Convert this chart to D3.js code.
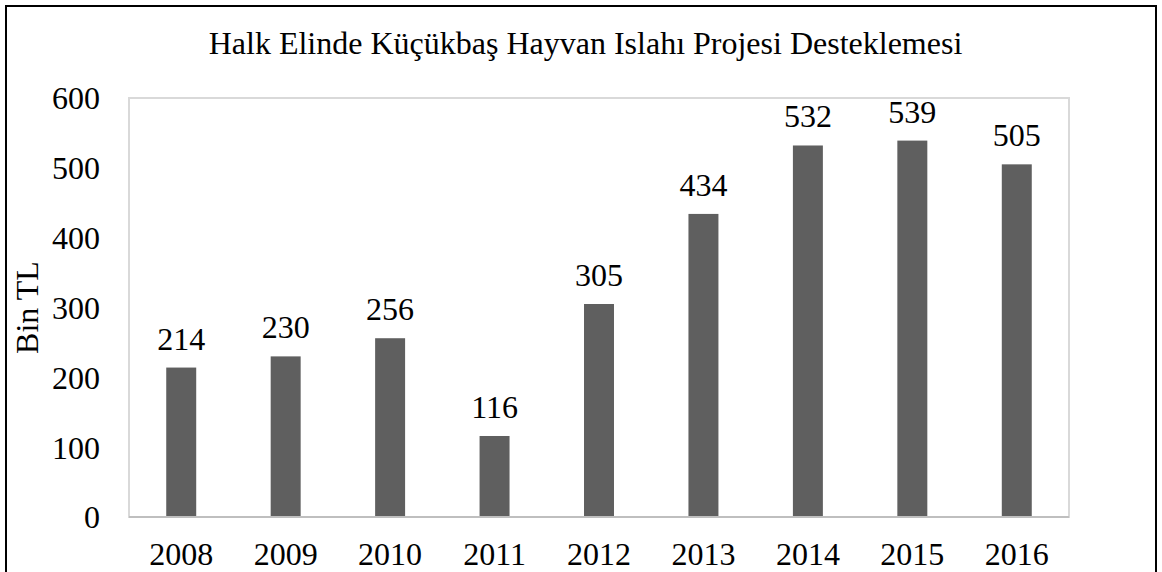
<!DOCTYPE html>
<html>
<head>
<meta charset="utf-8">
<script src="https://cdn.jsdelivr.net/npm/d3@7"></script>
<style>
  body{margin:0;background:#fff;}
  text{font-family:"Liberation Serif","Times New Roman",serif;fill:#000;}
</style>
</head>
<body>
<div id="chart"></div>
<script>
// data
var years=["2008","2009","2010","2011","2012","2013","2014","2015","2016"];
var values=[214,230,256,116,305,434,532,539,505];
var yTicks=[0,100,200,300,400,500,600];
var title="Halk Elinde Küçükbaş Hayvan Islahı Projesi Desteklemesi";
var yLabel="Bin TL";

var width=1162,height=572;
var plot={left:129,right:1069,top:98,bottom:517};
var fs="32px";

var svg=d3.select("#chart").append("svg")
    .attr("width",width)
    .attr("height",height);

// outer frame (bottom edge is cut off in the picture)
svg.append("path")
    .attr("d","M6,"+height+"V6H1156V"+height)
    .attr("fill","none")
    .attr("stroke","#000")
    .attr("stroke-width",2);

var x=d3.scaleBand()
    .domain(years)
    .range([plot.left,plot.right])
    .paddingInner(0.713)
    .paddingOuter(0.3565);

var y=d3.scaleLinear()
    .domain([0,600])
    .range([plot.bottom,plot.top]);

// plot area border
svg.append("rect")
    .attr("x",plot.left)
    .attr("y",plot.top)
    .attr("width",plot.right-plot.left)
    .attr("height",plot.bottom-plot.top)
    .attr("fill","none")
    .attr("stroke","#d9d9d9")
    .attr("stroke-width",2);

svg.selectAll(".bar")
    .data(values)
    .enter().append("rect")
    .attr("class","bar")
    .attr("x",function(d,i){return x(years[i]);})
    .attr("y",function(d){return y(d);})
    .attr("width",x.bandwidth())
    .attr("height",function(d){return y(0)-y(d);})
    .attr("fill","#5f5f5f");

// x axis line
svg.append("line")
    .attr("x1",plot.left)
    .attr("x2",plot.right)
    .attr("y1",y(0))
    .attr("y2",y(0))
    .attr("stroke","#bfbfbf")
    .attr("stroke-width",2);

var yAxis=svg.append("g")
    .attr("transform","translate(100,0)")
    .call(d3.axisLeft(y).tickValues(yTicks).tickSize(0).tickPadding(0));
yAxis.select(".domain").remove();
yAxis.selectAll("text")
    .attr("font-family",null)
    .attr("dy","0.34em")
    .style("font-size",fs);

var xAxis=svg.append("g")
    .attr("transform","translate(0,"+y(0)+")")
    .call(d3.axisBottom(x).tickSize(0).tickPadding(0));
xAxis.select(".domain").remove();
xAxis.selectAll("text")
    .attr("font-family",null)
    .attr("dy",null)
    .attr("y",48)
    .style("font-size",fs);

svg.selectAll(".label")
    .data(values)
    .enter().append("text")
    .attr("class","label")
    .attr("x",function(d,i){return x(years[i])+x.bandwidth()/2;})
    .attr("y",function(d){return y(d)-18;})
    .attr("text-anchor","middle")
    .style("font-size",fs)
    .text(function(d){return d;});

svg.append("text")
    .attr("x",585.5)
    .attr("y",54)
    .attr("text-anchor","middle")
    .style("font-size",fs)
    .text(title);

svg.append("text")
    .attr("transform","translate(38,"+((plot.top+plot.bottom)/2)+") rotate(-90)")
    .attr("text-anchor","middle")
    .style("font-size",fs)
    .text(yLabel);
</script>
</body>
</html>
